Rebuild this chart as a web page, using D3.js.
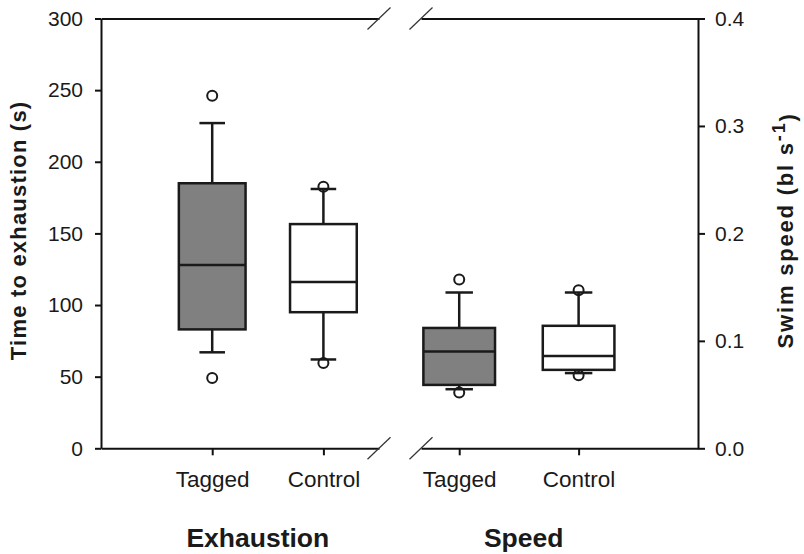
<!DOCTYPE html>
<html>
<head>
<meta charset="utf-8">
<script src="https://cdn.jsdelivr.net/npm/d3@7"></script>
<style>
  body { margin: 0; background: #fff; }
  svg { font-family: "Liberation Sans", Arial, sans-serif; }
</style>
</head>
<body>
<div id="chart"></div>
<script>
// data
const categories = ["Tagged", "Control"]
const catPos = [1, 2]
const groups = ["Exhaustion", "Speed"]

// time to exhaustion (s)
const exhLow = [67, 62]
const exhQ1 = [83, 95]
const exhMed = [128, 116]
const exhQ3 = [185, 156.5]
const exhHigh = [227, 181]
const exhOut = [[49, 246], [59.5, 182.5]]

// swim speed (bl s-1)
const spdLow = [0.055, 0.070]
const spdQ1 = [0.059, 0.073]
const spdMed = [0.090, 0.086]
const spdQ3 = [0.112, 0.114]
const spdHigh = [0.145, 0.145]
const spdOut = [[0.052, 0.157], [0.068, 0.147]]

const leftTicks = [0, 50, 100, 150, 200, 250, 300]
const rightTicks = [0.0, 0.1, 0.2, 0.3, 0.4]

const width = 804, height = 554
const yTop = 18.5, yBot = 448.3

const svg = d3.select("#chart").append("svg")
    .attr("width", width)
    .attr("height", height)

const yL = d3.scaleLinear().domain([0, 300]).range([yBot, yTop])
const yR = d3.scaleLinear().domain([0, 0.4]).range([yBot, yTop])

const xL = d3.scaleLinear().domain([0, 2.5]).range([101, 379])
const xR = d3.scaleLinear().domain([0.68, 3.0]).range([421, 698])

function boxes(x, y, low, q1, med, q3, high, out) {
    const unit = x(2) - x(1)
    const bw = unit * 0.6, cw = unit * 0.23
    const rows = categories.map((c, i) => ({
        c, pos: catPos[i], low: low[i], q1: q1[i], med: med[i], q3: q3[i], high: high[i], out: out[i],
        fill: c === "Tagged" ? "#808080" : "#ffffff"
    }))
    const g = svg.append("g")
        .attr("stroke", "#1a1a1a")
    const b = g.selectAll("g.box").data(rows).join("g").attr("class", "box")

    // whiskers
    b.append("line")
        .attr("x1", d => x(d.pos)).attr("x2", d => x(d.pos))
        .attr("y1", d => y(d.high)).attr("y2", d => y(d.q3))
        .attr("stroke-width", 2.5)
    b.append("line")
        .attr("x1", d => x(d.pos)).attr("x2", d => x(d.pos))
        .attr("y1", d => y(d.low)).attr("y2", d => y(d.q1))
        .attr("stroke-width", 2.5)
    // caps
    b.selectAll("line.cap").data(d => [d.low, d.high].map(v => ({ pos: d.pos, v })))
        .join("line").attr("class", "cap")
        .attr("x1", d => x(d.pos) - cw / 2).attr("x2", d => x(d.pos) + cw / 2)
        .attr("y1", d => y(d.v)).attr("y2", d => y(d.v))
        .attr("stroke-width", 2.5)
    // box
    b.append("rect")
        .attr("x", d => x(d.pos) - bw / 2)
        .attr("width", bw)
        .attr("y", d => y(d.q3))
        .attr("height", d => y(d.q1) - y(d.q3))
        .attr("fill", d => d.fill)
        .attr("stroke-width", 2.5)
    b.append("line")
        .attr("x1", d => x(d.pos) - bw / 2).attr("x2", d => x(d.pos) + bw / 2)
        .attr("y1", d => y(d.med)).attr("y2", d => y(d.med))
        .attr("stroke-width", 2.5)
    // outliers
    b.selectAll("circle").data(d => d.out.map(v => ({ pos: d.pos, v })))
        .join("circle")
        .attr("cx", d => x(d.pos)).attr("cy", d => y(d.v))
        .attr("r", 5)
        .attr("fill", "none")
        .attr("stroke-width", 2)
}

boxes(xL, yL, exhLow, exhQ1, exhMed, exhQ3, exhHigh, exhOut)
boxes(xR, yR, spdLow, spdQ1, spdMed, spdQ3, spdHigh, spdOut)

function styleAxis(g, fs) {
    g.select(".domain").attr("stroke", "#111").attr("stroke-width", 2)
    g.selectAll(".tick line").attr("stroke", "#111").attr("stroke-width", 2)
    g.selectAll(".tick text").attr("fill", "#1a1a1a").style("font-size", fs + "px")
    g.attr("font-family", null)
}

// left axis
svg.append("g")
    .attr("transform", `translate(${xL.range()[0]},0)`)
    .call(d3.axisLeft(yL).tickValues(leftTicks).tickSize(6).tickSizeOuter(0).tickPadding(12))
    .call(g => styleAxis(g, 21))

// right axis
svg.append("g")
    .attr("transform", `translate(${xR.range()[1]},0)`)
    .call(d3.axisRight(yR).tickValues(rightTicks).tickSize(7).tickSizeOuter(0).tickPadding(10)
        .tickFormat(d3.format(".1f")))
    .call(g => styleAxis(g, 21))

// bottom axes
const bottomAxis = x => d3.axisBottom(x).tickValues(catPos)
    .tickFormat((d, i) => categories[i]).tickSize(7).tickSizeOuter(0).tickPadding(16)
svg.append("g").attr("transform", `translate(0,${yBot})`)
    .call(bottomAxis(xL)).call(g => styleAxis(g, 22.5))
svg.append("g").attr("transform", `translate(0,${yBot})`)
    .call(bottomAxis(xR)).call(g => styleAxis(g, 22.5))

// top frame lines
const topAxis = x => d3.axisTop(x).tickValues([]).tickSizeOuter(0)
svg.append("g").attr("transform", `translate(0,${yTop})`).call(topAxis(xL)).call(g => styleAxis(g, 21))
svg.append("g").attr("transform", `translate(0,${yTop})`).call(topAxis(xR)).call(g => styleAxis(g, 21))

// axis break marks
const breaks = []
;[yTop, yBot].forEach(yy => {
    breaks.push({ x: xL.range()[1], y: yy })
    breaks.push({ x: xR.range()[0], y: yy })
})
svg.append("g").selectAll("line").data(breaks).join("line")
    .attr("x1", d => d.x - 11.5).attr("y1", d => d.y + 11)
    .attr("x2", d => d.x + 11.5).attr("y2", d => d.y - 11)
    .attr("stroke", "#333").attr("stroke-width", 1.2)

// axis titles
const midY = (yTop + yBot) / 2 - 3
svg.append("text")
    .attr("transform", `translate(26,${midY}) rotate(-90)`)
    .attr("text-anchor", "middle")
    .attr("font-weight", "bold")
    .attr("fill", "#1a1a1a")
    .style("font-size", "22px")
    .style("letter-spacing", "1.2px")
    .text("Time to exhaustion (s)")

const rt = svg.append("text")
    .attr("transform", `translate(793,${midY}) rotate(-90)`)
    .attr("text-anchor", "middle")
    .attr("font-weight", "bold")
    .attr("fill", "#1a1a1a")
    .style("font-size", "22px")
    .style("letter-spacing", "1.8px")
rt.append("tspan").text("Swim speed (bl s")
rt.append("tspan").attr("dy", "-0.45em").style("font-size", "18px").text("-1")
rt.append("tspan").attr("dy", "0.45em").text(")")

// group labels
svg.append("g").selectAll("text").data(groups).join("text")
    .attr("x", (d, i) => i === 0 ? xL(1.41) : xR(1.54))
    .attr("y", 547)
    .attr("text-anchor", "middle")
    .attr("font-weight", "bold")
    .attr("fill", "#1a1a1a")
    .style("font-size", "26.5px")
    .text(d => d)
</script>
</body>
</html>
